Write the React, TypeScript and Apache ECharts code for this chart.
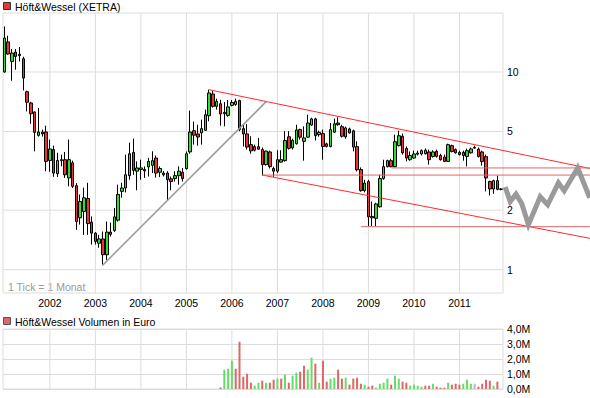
import React, { useEffect, useRef } from "react";
import * as echarts from "echarts";

// Monthly candles, index 0 = Jan 2001 ... 131 = Dec 2011
const OPEN = [10.0, 14.19, 11.31, 12.62, 12.30, 11.68, 7.95, 6.97, 6.28, 4.78, 4.96, 4.97,
  3.57, 4.05, 3.06, 3.56, 3.60, 2.91, 3.47, 2.66, 1.83, 1.97, 2.29, 1.74,
  1.53, 1.36, 1.43, 1.19, 1.55, 1.58, 1.78, 2.49, 2.59, 2.99, 3.92, 3.15,
  3.21, 3.21, 3.31, 3.37, 3.67, 3.11, 3.08, 3.08, 2.88, 2.89, 2.99, 3.11,
  3.24, 3.94, 5.05, 4.86, 4.92, 5.07, 6.01, 7.74, 6.70, 6.91, 6.25, 6.03,
  6.78, 6.85, 7.17, 5.17, 4.86, 4.29, 4.19, 4.19, 4.05, 3.40, 3.94, 3.25,
  3.15, 3.50, 3.56, 4.70, 4.13, 4.34, 5.11, 4.46, 4.68, 5.39, 5.79, 4.82,
  4.88, 4.33, 4.20, 4.96, 5.52, 5.29, 4.70, 5.15, 5.04, 4.19, 3.21, 2.51,
  2.79, 1.86, 1.82, 2.08, 2.89, 3.32, 3.56, 3.32, 4.24, 4.73, 4.10, 3.60,
  3.67, 3.84, 3.85, 3.86, 3.94, 3.74, 3.97, 3.78, 3.71, 3.53, 4.24, 4.05,
  3.92, 3.92, 3.74, 3.90, 4.15, 4.07, 3.94, 3.73, 2.79, 2.56, 2.82, 2.55];
const CLOSE = [14.86, 12.33, 12.47, 11.99, 12.09, 9.32, 7.03, 6.15, 4.95, 4.97, 4.86, 3.53,
  4.08, 3.08, 3.57, 3.60, 3.02, 3.60, 2.64, 1.75, 2.21, 2.31, 1.71, 1.53,
  1.39, 1.43, 1.19, 1.55, 1.51, 1.85, 2.40, 2.59, 3.02, 3.86, 3.18, 3.27,
  3.27, 3.16, 3.53, 3.56, 3.08, 3.25, 3.02, 2.85, 2.79, 2.99, 3.15, 2.89,
  3.86, 4.97, 4.79, 4.69, 5.17, 6.08, 7.83, 6.70, 7.10, 6.13, 6.15, 6.66,
  7.01, 7.10, 5.11, 4.86, 4.17, 3.99, 4.02, 4.07, 3.40, 3.98, 3.32, 3.15,
  3.60, 3.60, 4.50, 4.11, 4.51, 5.09, 4.68, 4.64, 5.52, 5.79, 4.76, 4.95,
  4.20, 4.20, 5.11, 5.47, 5.41, 4.73, 5.21, 4.92, 4.17, 3.20, 2.51, 2.74,
  1.85, 1.83, 2.15, 2.89, 3.32, 3.56, 3.32, 4.44, 4.76, 3.90, 3.67, 3.78,
  3.85, 3.89, 4.00, 4.02, 3.60, 3.94, 3.74, 3.60, 3.53, 4.29, 3.96, 3.90,
  3.82, 3.78, 4.00, 4.08, 4.12, 3.74, 3.52, 2.91, 2.56, 2.82, 2.55, 2.56];
const LOW = [9.92, 12.23, 9.03, 10.27, 11.31, 8.07, 6.32, 5.47, 3.97, 4.71, 4.71, 3.15,
  3.13, 2.95, 2.94, 3.33, 2.91, 2.64, 2.59, 1.59, 1.69, 1.50, 1.50, 1.34,
  1.34, 1.29, 1.06, 1.12, 1.47, 1.55, 1.75, 2.31, 2.46, 2.85, 3.02, 2.52,
  2.85, 2.91, 2.96, 3.08, 2.92, 2.94, 2.96, 2.24, 2.52, 2.79, 2.69, 2.79,
  3.21, 3.86, 4.29, 4.24, 4.29, 5.05, 5.63, 6.61, 6.45, 5.35, 5.31, 5.94,
  6.70, 6.75, 5.02, 4.20, 4.05, 3.86, 3.96, 4.05, 2.99, 3.36, 3.25, 2.95,
  3.08, 3.48, 3.52, 4.05, 4.05, 4.29, 4.55, 3.56, 4.66, 5.35, 4.50, 4.71,
  3.60, 4.15, 4.15, 4.92, 5.35, 4.66, 4.60, 4.88, 3.97, 3.14, 2.48, 2.46,
  1.66, 1.66, 1.66, 2.06, 2.85, 3.29, 3.29, 3.29, 4.20, 3.82, 3.53, 3.56,
  3.64, 3.78, 3.78, 3.82, 3.40, 3.69, 3.69, 3.56, 3.50, 3.52, 3.92, 3.86,
  3.78, 3.56, 3.33, 3.86, 4.10, 3.69, 3.36, 2.49, 2.37, 2.42, 2.52, 2.52];
const HIGH = [17.0, 15.26, 13.08, 13.08, 13.38, 11.95, 8.05, 7.07, 6.30, 6.58, 5.11, 5.35,
  4.55, 4.24, 3.90, 3.82, 3.94, 4.55, 3.56, 2.74, 2.40, 2.60, 2.75, 1.86,
  1.55, 1.50, 1.56, 1.75, 1.73, 2.05, 2.69, 2.75, 3.82, 4.39, 4.60, 3.53,
  3.60, 3.33, 3.68, 3.97, 3.78, 3.33, 3.15, 3.15, 2.96, 3.15, 3.33, 3.27,
  3.96, 6.38, 5.61, 5.41, 5.74, 6.45, 8.14, 8.05, 7.33, 7.24, 7.05, 7.22,
  7.22, 7.33, 7.24, 5.41, 5.45, 4.73, 4.29, 4.64, 4.15, 4.00, 4.00, 3.32,
  4.02, 4.02, 5.02, 5.02, 4.60, 5.41, 5.17, 5.31, 6.08, 5.87, 5.87, 5.05,
  5.11, 4.39, 5.52, 5.81, 5.90, 5.41, 5.29, 5.23, 5.11, 4.46, 3.29, 2.85,
  2.85, 2.21, 2.18, 3.02, 3.60, 3.60, 3.64, 4.82, 5.05, 4.88, 4.20, 3.96,
  4.00, 4.00, 4.06, 4.10, 4.05, 4.02, 4.05, 3.86, 3.82, 4.34, 4.29, 4.10,
  4.00, 4.00, 4.10, 4.15, 4.24, 4.15, 4.00, 3.82, 2.82, 2.85, 2.99, 2.58];

const YEAR_TICKS = [12, 24, 36, 48, 60, 72, 84, 96, 108, 120];
const YEAR_LABELS = ["2002", "2003", "2004", "2005", "2006", "2007", "2008", "2009", "2010", "2011"];
const PRICE_TICKS = [1, 2, 5, 10];

// Volume in million euro, starting at month index 57
const VOLUME_START = 57;
const VOLUME = [0.1, 1.29, 1.35, 1.89, 1.35, 3.15, 0.82, 1.02, 0.42, 0.22, 0.42, 0.55, 0.42, 0.42,
  0.62, 0.69, 0.69, 0.95, 0.42, 0.89, 1.09, 1.15, 1.55, 1.29, 2.09, 1.69, 0.42, 1.89, 0.49, 0.69,
  0.75, 1.29, 0.69, 0.75, 0.29, 0.69, 0.75, 0.35, 0.29, 0.15, 0.22, 0.09, 0.35, 0.42, 0.69, 0.29,
  0.89, 0.69, 0.49, 0.42, 0.22, 0.29, 0.22, 0.15, 0.22, 0.22, 0.35, 0.15, 0.09, 0.09, 0.42, 0.29,
  0.35, 0.29, 0.35, 0.62, 0.35, 0.35, 0.15, 0.35, 0.62, 0.55, 0.22, 0.49];
const VOLUME_DIR = "rgggrrrrrg" + "grgrrgrgrg" + "grrggrgrrg" + "grrgrrrrgr" + "rggggrggrr" + "ggggrrgrrr" + "grrrgggnrr" + "rrgr";
const VOLUME_TICKS = [0, 1, 2, 3, 4];

// Chart-pattern projection (month index, price)
const PROJ_X = [132.06, 133.38, 134.91, 136.41, 138.18, 141.29, 143.27, 146.09, 147.62, 151.18, 154.35];
const PROJ_Y = [2.62, 2.21, 2.41, 2.16, 1.69, 2.34, 2.13, 2.75, 2.51, 3.27, 2.31];

// Trend lines [month index, price]
const UPPER_CHANNEL = [[53.9, 8.14], [154.4, 3.25]];
const LOWER_CHANNEL = [[68.0, 3.01], [154.4, 1.44]];
const UPTREND = [[25.85, 1.05], [69.1, 7.1]];
// horizontal lines [from month, to month, price]
const HORIZONTALS = [[102.1, 154.4, 3.27], [68.0, 154.4, 3.01], [94.0, 154.4, 1.65]];

const X_MIN = -0.36;
const X_MAX = 131.48;
const P_MIN = 0.762;
const P_MAX = 19.88;

const FONT = "'Liberation Sans', Arial, Helvetica, sans-serif";
const FS = 10.5;
const lg = (v: number) => Math.log10(v);

export default function App() {
  const ref = useRef<HTMLDivElement>(null);
  useEffect(() => {
    document.body.style.margin = "0";
    const chart = echarts.init(ref.current as HTMLDivElement, null, { renderer: "svg" });
    const mainW = 500;
    const overW = 587;
    const overMax = X_MIN + ((X_MAX - X_MIN) * overW) / mainW;
    const yMin = lg(P_MIN);
    const yMax = lg(P_MAX);
    const gridColor = "#dcdcdc";

    const seg = (idx: number, data: number[][], color: string, width: number, z: number) => ({
      type: "line",
      xAxisIndex: idx,
      yAxisIndex: idx,
      data,
      symbol: "none",
      silent: true,
      z,
      lineStyle: { color, width, join: "miter" },
    });

    const series: any[] = [];
    YEAR_TICKS.forEach((t) => {
      series.push(seg(0, [[t, yMin], [t, yMax]], gridColor, 1, 1));
      series.push(seg(1, [[t, 0], [t, 4]], gridColor, 1, 1));
    });
    PRICE_TICKS.forEach((p) => {
      series.push(seg(0, [[X_MIN, lg(p)], [X_MAX, lg(p)]], gridColor, 1, 1));
    });

    series.push({
      type: "candlestick",
      xAxisIndex: 0,
      yAxisIndex: 0,
      data: OPEN.map((o, i) => [i, lg(o), lg(CLOSE[i]), lg(LOW[i]), lg(HIGH[i])]),
      encode: { x: 0, y: [1, 2, 3, 4] },
      barWidth: 3,
      z: 2,
      itemStyle: {
        color: "#33dd33",
        color0: "#ee3333",
        borderColor: "#000",
        borderColor0: "#000",
        borderWidth: 1,
      },
    });

    const volColor = (c: string) => (c === "g" ? "#66dd66" : c === "r" ? "#dd6666" : "#bbbbbb");
    series.push({
      type: "bar",
      xAxisIndex: 1,
      yAxisIndex: 1,
      barWidth: 2,
      z: 2,
      data: VOLUME.map((v, i) => ({
        value: [VOLUME_START + i, v],
        itemStyle: { color: volColor(VOLUME_DIR[i]) },
      })),
    });

    const toLog = (pts: number[][]) => pts.map((p) => [p[0], lg(p[1])]);
    series.push(seg(2, toLog(UPTREND), "#999999", 1.5, 3));
    series.push(seg(2, toLog(UPPER_CHANNEL), "#ff2a2a", 1, 3));
    series.push(seg(2, toLog(LOWER_CHANNEL), "#ff2a2a", 1, 3));
    HORIZONTALS.forEach((h) => {
      series.push(seg(2, [[h[0], lg(h[2])], [h[1], lg(h[2])]], "#e06666", 1, 3));
    });
    series.push(seg(2, PROJ_X.map((x, i) => [x, lg(PROJ_Y[i])]), "#9a9a9a", 5, 4));

    const labelBase = { fontSize: FS, fontFamily: FONT, color: "#000" };

    chart.setOption({
      animation: false,
      textStyle: { fontFamily: FONT },
      grid: [
        { left: 3, top: 13, width: mainW, height: 280, show: true, borderColor: gridColor, borderWidth: 1, containLabel: false },
        { left: 3, top: 329, width: mainW, height: 60, show: true, borderColor: gridColor, borderWidth: 1, containLabel: false },
        { left: 3, top: 13, width: overW, height: 280, show: false, containLabel: false },
      ],
      xAxis: [
        {
          gridIndex: 0, type: "value", min: X_MIN, max: X_MAX,
          axisLine: { show: false }, axisTick: { show: false }, splitLine: { show: false },
          axisLabel: {
            ...labelBase,
            customValues: YEAR_TICKS,
            margin: 4,
            formatter: (v: number) => YEAR_LABELS[YEAR_TICKS.indexOf(Math.round(v))] || "",
          },
        },
        {
          gridIndex: 1, type: "value", min: X_MIN, max: X_MAX,
          axisLine: { show: false }, axisTick: { show: false }, splitLine: { show: false },
          axisLabel: { show: false },
        },
        { gridIndex: 2, type: "value", min: X_MIN, max: overMax, show: false, splitLine: { show: false } },
      ],
      yAxis: [
        {
          gridIndex: 0, type: "value", min: yMin, max: yMax, position: "right",
          axisLine: { show: false }, axisTick: { show: false }, splitLine: { show: false },
          axisLabel: {
            ...labelBase,
            customValues: PRICE_TICKS.map(lg),
            margin: 4,
            formatter: (v: number) => String(Math.round(Math.pow(10, v))),
          },
        },
        {
          gridIndex: 1, type: "value", min: VOLUME_TICKS[0], max: VOLUME_TICKS[VOLUME_TICKS.length - 1], interval: 1,
          position: "right",
          axisLine: { show: false }, axisTick: { show: false },
          splitLine: { show: true, lineStyle: { color: gridColor, width: 1 } },
          axisLabel: {
            ...labelBase,
            margin: 4,
            formatter: (v: number) => v.toFixed(1).replace(".", ",") + "M",
          },
        },
        { gridIndex: 2, type: "value", min: yMin, max: yMax, show: false, splitLine: { show: false } },
      ],
      graphic: [
        { type: "rect", shape: { x: 3.5, y: 2.5, width: 7, height: 7 }, style: { fill: "#ee3333", stroke: "#333", lineWidth: 1 } },
        { type: "text", x: 15, y: 6.5, style: { text: "Höft&Wessel (XETRA)", fontSize: FS, fontFamily: FONT, fill: "#000", verticalAlign: "middle", align: "left" } },
        { type: "text", x: 8, y: 287, style: { text: "1 Tick = 1 Monat", fontSize: FS, fontFamily: FONT, fill: "#999999", verticalAlign: "middle", align: "left" } },
        { type: "rect", shape: { x: 3.5, y: 317.5, width: 7, height: 7 }, style: { fill: "#dd6666", stroke: "#555", lineWidth: 1 } },
        { type: "text", x: 15, y: 321.5, style: { text: "Höft&Wessel Volumen in Euro", fontSize: FS, fontFamily: FONT, fill: "#000", verticalAlign: "middle", align: "left" } },
      ],
      series,
    });
    return () => chart.dispose();
  }, []);
  return <div ref={ref} style={{ position: "absolute", left: 0, top: 0, width: 590, height: 398 }} />;
}
